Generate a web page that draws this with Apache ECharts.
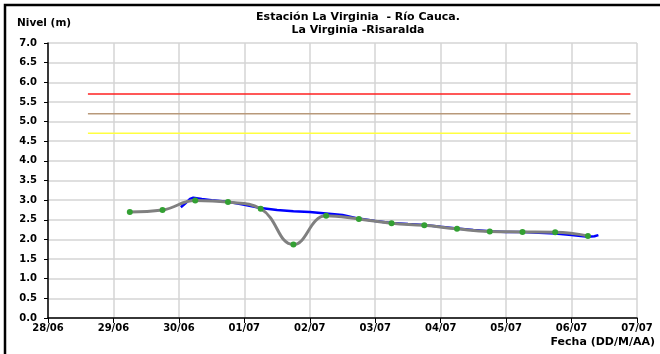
<!DOCTYPE html>
<html>
<head>
<meta charset="utf-8">
<script src="https://cdn.jsdelivr.net/npm/echarts@6/dist/echarts.min.js"></script>
<style>
  html, body { margin: 0; padding: 0; background: #fff; }
  #chart { width: 660px; height: 354px; }
</style>
</head>
<body>
<div id="chart"></div>
<script>
// etiquetas del eje x (dias desde 28/06)
var dayLabels = ['28/06', '29/06', '30/06', '01/07', '02/07', '03/07', '04/07', '05/07', '06/07', '07/07']
var yLabels = ['0.0', '0.5', '1.0', '1.5', '2.0', '2.5', '3.0', '3.5', '4.0', '4.5', '5.0', '5.5', '6.0', '6.5', '7.0']

// lecturas de mira (puntos verdes), x en dias desde 28/06
var miraDays = [1.25, 1.75, 2.25, 2.75, 3.25, 3.75, 4.25, 4.75, 5.25, 5.75, 6.25, 6.75, 7.25, 7.75, 8.25]
var miraLevels = [2.70, 2.75, 2.99, 2.95, 2.78, 1.87, 2.60, 2.52, 2.41, 2.36, 2.27, 2.20, 2.19, 2.18, 2.09]

// sensor automatico (linea azul)
var sensorDays = [2.03, 2.10, 2.17, 2.22, 2.35, 2.50, 2.75, 3.00, 3.25, 3.50, 3.75, 4.00, 4.25, 4.50, 4.75, 5.00, 5.25, 5.50, 5.75, 6.00, 6.25, 6.50, 6.75, 7.00, 7.25, 7.50, 7.75, 8.00, 8.25, 8.35, 8.41]
var sensorLevels = [2.82, 2.92, 3.03, 3.06, 3.03, 3.00, 2.96, 2.88, 2.80, 2.75, 2.72, 2.70, 2.66, 2.62, 2.53, 2.47, 2.42, 2.39, 2.37, 2.32, 2.28, 2.24, 2.21, 2.19, 2.19, 2.17, 2.15, 2.11, 2.07, 2.08, 2.11]

// niveles de alerta
var alertStart = 0.61
var alertEnd = 8.9
var alertLevels = [5.7, 5.2, 4.7]
var alertColors = ['#ff2020', '#b8997a', '#ffff40']

var chartInstance = echarts.init(document.getElementById('chart'))

function pairs (xs, ys) {
  var out = []
  for (var i = 0; i < xs.length; i++) {
    out.push([xs[i], ys[i]])
  }
  return out
}

var font = 'DejaVu Sans, sans-serif'
var series = []

for (var k = 0; k < alertLevels.length; k++) {
  series.push({
    type: 'line',
    data: [[alertStart, alertLevels[k]], [alertEnd, alertLevels[k]]],
    showSymbol: false,
    lineStyle: { color: alertColors[k], width: 1.5 },
    silent: true,
    animation: false
  })
}

series.push({
  type: 'line',
  data: pairs(sensorDays, sensorLevels),
  showSymbol: false,
  lineStyle: { color: '#0000ff', width: 2.5 },
  animation: false
})

series.push({
  type: 'line',
  data: pairs(miraDays, miraLevels),
  smooth: 0.45,
  symbol: 'circle',
  symbolSize: 6,
  itemStyle: { color: '#33a033' },
  lineStyle: { color: '#808080', width: 3 },
  z: 3,
  animation: false
})

var option = {
  backgroundColor: '#fff',
  title: {
    text: 'Estación La Virginia  - Río Cauca.\nLa Virginia -Risaralda',
    left: 353,
    top: 6,
    textAlign: 'center',
    textStyle: { fontFamily: font, fontSize: 11, fontWeight: 'bold', color: '#000', lineHeight: 13 }
  },
  graphic: [
    {
      type: 'rect',
      shape: { x: 5, y: 5, width: 700, height: 400 },
      style: { fill: 'none', stroke: '#000', lineWidth: 2.5 },
      silent: true
    },
    {
      type: 'text',
      left: 163,
      top: -24,
      style: { text: '(La Virginia)', font: '25px Liberation Sans, Arial, sans-serif', fill: '#000' }
    },
    {
      type: 'text',
      left: 17,
      top: 18,
      style: { text: 'Nivel (m)', font: 'bold 10.5px ' + font, fill: '#000' }
    },
    {
      type: 'text',
      right: 5,
      top: 337,
      style: { text: 'Fecha (DD/M/AA)', font: 'bold 11px ' + font, fill: '#000' }
    }
  ],
  grid: {
    left: 48,
    right: 23,
    top: 43,
    bottom: 36
  },
  xAxis: {
    type: 'value',
    min: 0,
    max: 9,
    interval: 1,
    axisLine: { lineStyle: { color: '#000', width: 1.5 } },
    axisTick: { show: true, length: 5, lineStyle: { color: '#000' } },
    axisLabel: {
      color: '#000',
      fontFamily: font,
      fontSize: 10,
      fontWeight: 'bold',
      margin: 5,
      formatter: function (v) { return dayLabels[Math.round(v)] }
    },
    splitLine: { show: true, lineStyle: { color: '#d4d4d4', width: 1.5 } }
  },
  yAxis: {
    type: 'value',
    min: 0,
    max: 7,
    interval: 0.5,
    axisLine: { show: true, lineStyle: { color: '#000', width: 1.5 } },
    axisTick: { show: true, length: 4, lineStyle: { color: '#000' } },
    axisLabel: {
      color: '#000',
      fontFamily: font,
      fontSize: 10,
      fontWeight: 'bold',
      margin: 11,
      formatter: function (v) { return yLabels[Math.round(v * 2)] }
    },
    splitLine: { show: true, lineStyle: { color: '#d4d4d4', width: 1.5 } }
  },
  series: series
}

chartInstance.setOption(option)
</script>
</body>
</html>
